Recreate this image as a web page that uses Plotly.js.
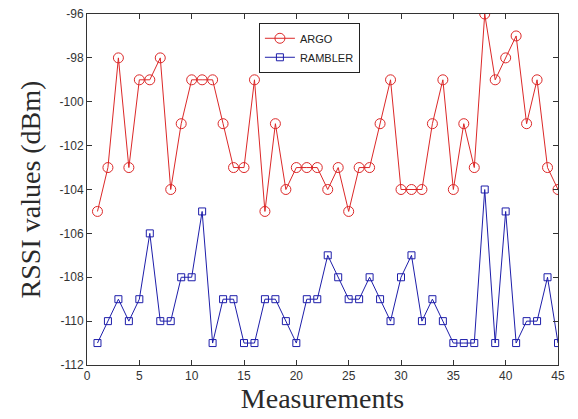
<!DOCTYPE html>
<html>
<head>
<meta charset="utf-8">
<script src="https://cdn.plot.ly/plotly-3.0.1.min.js"></script>
<style>html,body{margin:0;padding:0;background:#fff;}#chart{width:578px;height:419px;}</style>
</head>
<body>
<div id="chart"></div>
<script>
const measurements = [1,2,3,4,5,6,7,8,9,10,11,12,13,14,15,16,17,18,19,20,21,22,23,24,25,26,27,28,29,30,31,32,33,34,35,36,37,38,39,40,41,42,43,44,45];
const argo = [-105,-103,-98,-103,-99,-99,-98,-104,-101,-99,-99,-99,-101,-103,-103,-99,-105,-101,-104,-103,-103,-103,-104,-103,-105,-103,-103,-101,-99,-104,-104,-104,-101,-99,-104,-101,-103,-96,-99,-98,-97,-101,-99,-103,-104];
const rambler = [-111,-110,-109,-110,-109,-106,-110,-110,-108,-108,-105,-111,-109,-109,-111,-111,-109,-109,-110,-111,-109,-109,-107,-108,-109,-109,-108,-109,-110,-108,-107,-110,-109,-110,-111,-111,-111,-104,-111,-105,-111,-110,-110,-108,-111];
const xTicks = [0,5,10,15,20,25,30,35,40,45];
const yTicks = [-112,-110,-108,-106,-104,-102,-100,-98,-96];

const traces = [
  {x: measurements, y: argo, name: 'ARGO', mode: 'lines+markers', type: 'scatter',
   line: {color: 'rgb(220,40,40)', width: 1},
   marker: {symbol: 'circle-open', size: 10, color: 'rgb(220,40,40)', line: {width: 1}}},
  {x: measurements, y: rambler, name: 'RAMBLER', mode: 'lines+markers', type: 'scatter',
   line: {color: 'rgb(30,30,170)', width: 1},
   marker: {symbol: 'square-open', size: 7, color: 'rgb(30,30,170)', line: {width: 1}}}
];
const axisFont = {family: 'Liberation Sans, Arial, sans-serif', size: 12, color: '#333'};
const titleFont = {family: 'Liberation Serif, Times New Roman, serif', size: 28, color: '#2a2a2a'};
const layout = {
  width: 578, height: 419,
  margin: {l: 87, r: 20, t: 14, b: 54},
  paper_bgcolor: '#fff', plot_bgcolor: '#fff',
  showlegend: true,
  legend: {x: 0.365, y: 0.975, xanchor: 'left', yanchor: 'top', bgcolor: '#fff',
    bordercolor: '#222', borderwidth: 1, font: {family: 'Liberation Sans, Arial, sans-serif', size: 11, color: '#222'},
    tracegroupgap: 0, itemwidth: 30},
  xaxis: {range: [0, 45], tickvals: xTicks, ticktext: xTicks.map(String), ticks: 'inside', ticklen: 5,
    tickcolor: '#333', showline: true, linecolor: '#333', linewidth: 1, mirror: 'ticks', showgrid: false, zeroline: false,
    tickfont: axisFont,
    title: {text: 'Measurements', font: titleFont, standoff: 5}},
  yaxis: {range: [-112, -96], tickvals: yTicks, ticktext: yTicks.map(String), ticks: 'inside', ticklen: 5,
    tickcolor: '#333', showline: true, linecolor: '#333', linewidth: 1, mirror: 'ticks', showgrid: false, zeroline: false,
    tickfont: axisFont,
    title: {text: 'RSSI values (dBm)', font: titleFont, standoff: 10}}
};
Plotly.newPlot('chart', traces, layout, {displayModeBar: false, staticPlot: true});
</script>
</body>
</html>
